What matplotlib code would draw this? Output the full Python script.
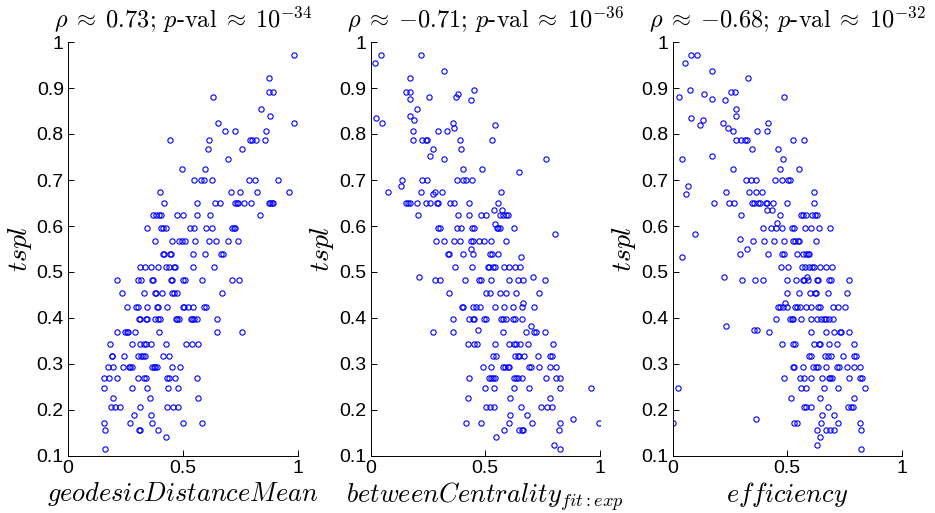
import matplotlib
matplotlib.use('Agg')
import matplotlib.pyplot as plt
import numpy as np

plt.rcParams['mathtext.fontset'] = 'cm'
plt.rcParams['font.family'] = ['Liberation Sans', 'DejaVu Sans']

# tspl levels and the x values found on each level, per panel
geo_levels = [0.972, 0.922, 0.892, 0.881, 0.854, 0.840, 0.823, 0.806, 0.788, 0.768,
              0.746, 0.724, 0.701, 0.675, 0.650, 0.624, 0.596, 0.568, 0.539, 0.511,
              0.482, 0.454, 0.425, 0.397, 0.370, 0.343, 0.318, 0.293, 0.270, 0.248,
              0.227, 0.207, 0.189, 0.172, 0.156, 0.141, 0.115]
geo_rows = [
    [0.984],
    [0.875],
    [0.875, 0.894],
    [0.632],
    [0.842],
    [0.880],
    [0.652, 0.983],
    [0.683, 0.729, 0.861],
    [0.445, 0.613, 0.794, 0.800, 0.819, 0.859],
    [0.609, 0.759],
    [0.697],
    [0.497, 0.599],
    [0.548, 0.580, 0.594, 0.629, 0.790, 0.813, 0.914],
    [0.400, 0.710, 0.751, 0.822, 0.965],
    [0.419, 0.562, 0.641, 0.662, 0.729, 0.735, 0.740, 0.768, 0.797, 0.874, 0.880, 0.887, 0.893],
    [0.372, 0.384, 0.396, 0.406, 0.475, 0.500, 0.562, 0.620, 0.838],
    [0.345, 0.406, 0.414, 0.425, 0.530, 0.549, 0.603, 0.626, 0.716, 0.722, 0.728],
    [0.380, 0.452, 0.484, 0.496, 0.511, 0.552, 0.613, 0.646, 0.697, 0.740],
    [0.414, 0.420, 0.443, 0.449, 0.543, 0.596, 0.667, 0.674],
    [0.315, 0.336, 0.362, 0.390, 0.426, 0.439, 0.461, 0.467, 0.546, 0.636],
    [0.214, 0.307, 0.316, 0.365, 0.371, 0.449, 0.455, 0.501, 0.510, 0.584, 0.716, 0.745],
    [0.235, 0.333, 0.377, 0.384, 0.410, 0.452, 0.462, 0.474, 0.671],
    [0.255, 0.297, 0.304, 0.346, 0.388, 0.394, 0.432, 0.500, 0.506, 0.525, 0.543, 0.593, 0.600],
    [0.309, 0.315, 0.339, 0.345, 0.377, 0.394, 0.403, 0.471, 0.477, 0.483, 0.535, 0.542, 0.548, 0.561, 0.651],
    [0.214, 0.248, 0.255, 0.261, 0.293, 0.396, 0.651, 0.759],
    [0.184, 0.281, 0.313, 0.332, 0.338, 0.361, 0.429, 0.516, 0.541, 0.568],
    [0.190, 0.193, 0.245, 0.303, 0.317, 0.327, 0.336, 0.416, 0.438],
    [0.175, 0.196, 0.238, 0.267, 0.272, 0.278, 0.365, 0.375, 0.381, 0.388, 0.452, 0.490],
    [0.157, 0.177, 0.212, 0.307, 0.330, 0.339, 0.433, 0.442, 0.465, 0.561],
    [0.158, 0.280, 0.343, 0.435, 0.480],
    [0.196, 0.359, 0.567],
    [0.187, 0.206, 0.228, 0.315, 0.433, 0.459, 0.480],
    [0.287, 0.361],
    [0.159, 0.268, 0.367, 0.500, 0.584],
    [0.161, 0.309, 0.315, 0.391],
    [0.428],
    [0.161],
]

btw_levels = [0.972, 0.955, 0.937, 0.922, 0.895, 0.892, 0.887, 0.881, 0.877, 0.874,
              0.854, 0.840, 0.835, 0.831, 0.823, 0.819, 0.813, 0.806, 0.788, 0.768,
              0.752, 0.746, 0.724, 0.717, 0.701, 0.686, 0.675, 0.670, 0.650, 0.634,
              0.624, 0.605, 0.596, 0.583, 0.568, 0.549, 0.539, 0.533, 0.511, 0.489,
              0.482, 0.454, 0.432, 0.425, 0.397, 0.382, 0.374, 0.370, 0.343, 0.318,
              0.293, 0.270, 0.248, 0.227, 0.207, 0.189, 0.181, 0.172, 0.156, 0.141,
              0.125, 0.115]
btw_rows = [
    [0.044, 0.221],
    [0.020],
    [0.320],
    [0.172],
    [0.452],
    [0.155, 0.172],
    [0.381],
    [0.256, 0.373],
    [0.171],
    [0.437],
    [0.202],
    [0.170],
    [0.024],
    [0.189],
    [0.052, 0.359],
    [0.541],
    [0.362],
    [0.184, 0.296, 0.333],
    [0.186, 0.223, 0.241, 0.247, 0.388, 0.531],
    [0.272, 0.394],
    [0.258],
    [0.321, 0.766],
    [0.401, 0.487],
    [0.648],
    [0.136, 0.226, 0.247, 0.376, 0.403, 0.414, 0.442],
    [0.135],
    [0.075, 0.220, 0.280, 0.312, 0.570],
    [0.274],
    [0.156, 0.162, 0.171, 0.202, 0.240, 0.261, 0.290, 0.295, 0.347, 0.366, 0.429, 0.554],
    [0.536, 0.573],
    [0.206, 0.382, 0.429, 0.481, 0.503, 0.563, 0.579, 0.589, 0.599],
    [0.544],
    [0.296, 0.302, 0.376, 0.395, 0.442, 0.453, 0.551, 0.557, 0.564, 0.624],
    [0.804],
    [0.287, 0.322, 0.362, 0.388, 0.436, 0.445, 0.474, 0.494, 0.526, 0.592],
    [0.437],
    [0.339, 0.344, 0.401, 0.448, 0.522, 0.529, 0.555],
    [0.654],
    [0.370, 0.443, 0.510, 0.518, 0.535, 0.544, 0.582, 0.605, 0.628, 0.652],
    [0.210, 0.708],
    [0.283, 0.305, 0.410, 0.472, 0.481, 0.526, 0.602, 0.644, 0.664, 0.761],
    [0.343, 0.503, 0.522, 0.563, 0.592, 0.635, 0.736],
    [0.664],
    [0.397, 0.403, 0.445, 0.459, 0.478, 0.542, 0.582, 0.622, 0.661, 0.714],
    [0.359, 0.430, 0.445, 0.450, 0.493, 0.504, 0.567, 0.577, 0.590, 0.622, 0.631, 0.659],
    [0.700],
    [0.468],
    [0.272, 0.359, 0.576, 0.676, 0.713, 0.721, 0.762],
    [0.424, 0.449, 0.466, 0.544, 0.603, 0.627, 0.634, 0.653, 0.688, 0.796],
    [0.534, 0.547, 0.631, 0.643, 0.648, 0.669, 0.728, 0.784, 0.790],
    [0.491, 0.525, 0.576, 0.586, 0.598, 0.603, 0.691, 0.701, 0.735, 0.781, 0.807],
    [0.429, 0.515, 0.525, 0.534, 0.541, 0.627, 0.634, 0.641, 0.662, 0.765, 0.808, 0.827],
    [0.500, 0.538, 0.627, 0.691, 0.826, 0.962],
    [0.427, 0.609, 0.781],
    [0.503, 0.522, 0.538, 0.654, 0.743, 0.771, 0.792],
    [0.608, 0.684],
    [0.883],
    [0.414, 0.483, 0.603, 0.702, 0.825, 0.996],
    [0.580, 0.648, 0.659, 0.666, 0.823],
    [0.547],
    [0.800],
    [0.825],
]

eff_levels = [0.972, 0.955, 0.937, 0.922, 0.895, 0.892, 0.887, 0.881, 0.877, 0.874,
              0.854, 0.840, 0.835, 0.831, 0.823, 0.819, 0.813, 0.806, 0.788, 0.768,
              0.752, 0.746, 0.724, 0.701, 0.686, 0.675, 0.670, 0.650, 0.634, 0.624,
              0.607, 0.596, 0.583, 0.572, 0.568, 0.549, 0.539, 0.533, 0.511, 0.489,
              0.482, 0.454, 0.432, 0.425, 0.397, 0.382, 0.374, 0.370, 0.343, 0.318,
              0.293, 0.270, 0.248, 0.227, 0.207, 0.189, 0.181, 0.172, 0.156, 0.141,
              0.125, 0.115]
eff_rows = [
    [0.081, 0.107],
    [0.053],
    [0.174],
    [0.327],
    [0.075],
    [0.255, 0.271],
    [0.138],
    [0.030, 0.484],
    [0.170],
    [0.227],
    [0.278],
    [0.278],
    [0.081],
    [0.134],
    [0.221, 0.418],
    [0.118],
    [0.240],
    [0.263, 0.368, 0.412],
    [0.278, 0.298, 0.316, 0.323, 0.523, 0.573],
    [0.345, 0.460],
    [0.174],
    [0.043, 0.481],
    [0.263, 0.470, 0.551],
    [0.322, 0.342, 0.363, 0.447, 0.479, 0.503, 0.513],
    [0.069],
    [0.231, 0.332, 0.363, 0.392, 0.615],
    [0.059],
    [0.179, 0.247, 0.266, 0.345, 0.354, 0.371, 0.380, 0.406, 0.412, 0.438, 0.500, 0.616],
    [0.412, 0.434],
    [0.300, 0.468, 0.561, 0.567, 0.581, 0.609, 0.622, 0.629],
    [0.456],
    [0.393, 0.428, 0.449, 0.476, 0.520, 0.529, 0.577, 0.603, 0.638, 0.685],
    [0.097],
    [0.295],
    [0.352, 0.399, 0.441, 0.486, 0.524, 0.532, 0.545, 0.551, 0.625],
    [0.325],
    [0.295, 0.416, 0.478, 0.484, 0.543, 0.567, 0.583, 0.589, 0.595],
    [0.042],
    [0.472, 0.504, 0.564, 0.576, 0.596, 0.608, 0.615, 0.641, 0.670, 0.697],
    [0.226, 0.584],
    [0.301, 0.360, 0.395, 0.501, 0.539, 0.568, 0.574, 0.590, 0.628, 0.635, 0.682, 0.691, 0.768],
    [0.501, 0.552, 0.599, 0.621, 0.627, 0.676, 0.762],
    [0.489],
    [0.459, 0.468, 0.482, 0.500, 0.535, 0.542, 0.555, 0.580, 0.605, 0.634, 0.644, 0.698, 0.722, 0.750],
    [0.450, 0.511, 0.519, 0.527, 0.558, 0.605, 0.631, 0.646, 0.659, 0.669, 0.684, 0.698],
    [0.233],
    [0.354, 0.370],
    [0.422, 0.605, 0.669, 0.705, 0.729, 0.736, 0.768],
    [0.479, 0.524, 0.533, 0.615, 0.637, 0.643, 0.684, 0.717, 0.792],
    [0.596, 0.602, 0.666, 0.676, 0.692, 0.745, 0.789, 0.799],
    [0.524, 0.530, 0.568, 0.613, 0.624, 0.635, 0.670, 0.716, 0.724, 0.762, 0.789, 0.818],
    [0.487, 0.555, 0.573, 0.603, 0.651, 0.680, 0.688, 0.696, 0.771, 0.819, 0.825],
    [0.022, 0.561, 0.583, 0.659, 0.722, 0.838],
    [0.517, 0.641, 0.789],
    [0.574, 0.583, 0.602, 0.679, 0.764, 0.777, 0.787],
    [0.650, 0.704],
    [0.365],
    [0.002, 0.529, 0.543, 0.645, 0.723, 0.818],
    [0.628, 0.667, 0.686, 0.705, 0.822],
    [0.641],
    [0.628],
    [0.822],
]

titles = [r'$\rho\;\approx\;0.73$; $p$-val$\;\approx\;10^{-34}$',
          r'$\rho\;\approx\;{-0.71}$; $p$-val$\;\approx\;10^{-36}$',
          r'$\rho\;\approx\;{-0.68}$; $p$-val$\;\approx\;10^{-32}$']
xlabels = [r'$geodesicDistanceMean$', r'$betweenCentrality_{fit:exp}$', r'$efficiency$']
yticks = [0.1, 0.2, 0.3, 0.4, 0.5, 0.6, 0.7, 0.8, 0.9, 1.0]
yticklabels = ['0.1', '0.2', '0.3', '0.4', '0.5', '0.6', '0.7', '0.8', '0.9', '1']


def flatten(levels, rows):
    xs, ys = [], []
    for lev, row in zip(levels, rows):
        xs.extend(row)
        ys.extend([lev] * len(row))
    return np.array(xs), np.array(ys)


panels = [flatten(geo_levels, geo_rows), flatten(btw_levels, btw_rows), flatten(eff_levels, eff_rows)]

fig = plt.figure(figsize=(9.35, 5.13), dpi=100)
lefts = [68 / 935, 370.5 / 935, 672.5 / 935]

for i, (x, y) in enumerate(panels):
    ax = fig.add_axes([lefts[i], 57 / 513, 229.5 / 935, 414 / 513])
    ax.plot(x, y, 'o', mfc='none', mec=(0, 0, 1), ms=3.8, mew=0.8, ls='none')
    ax.set_xlim(0, 1)
    ax.set_ylim(0.1, 1)
    ax.set_xticks([0, 0.5, 1])
    ax.set_xticklabels(['0', '0.5', '1'])
    ax.set_yticks(yticks)
    ax.set_yticklabels(yticklabels)
    ax.tick_params(direction='in', length=4, width=0.7, labelsize=14, pad=3)
    ax.spines['top'].set_visible(False)
    ax.spines['right'].set_visible(False)
    for s in ['left', 'bottom']:
        ax.spines[s].set_linewidth(0.7)
    ax.set_title(titles[i], fontsize=17.5, family='cmr10', pad=10)
    ax.set_xlabel(xlabels[i], fontsize=19, labelpad=2)
    ax.set_ylabel(r'$tspl$', fontsize=20, labelpad=2)

fig.savefig('out.png', dpi=100)
